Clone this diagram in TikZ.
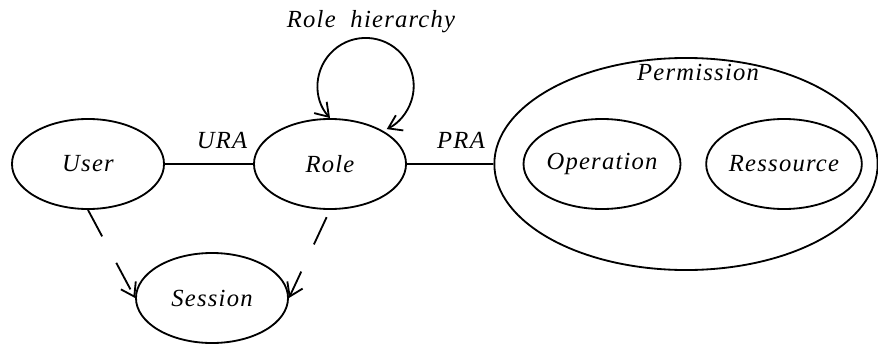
\documentclass[tikz,border=0pt]{standalone}
\usepackage{fontspec}
\setmainfont{Liberation Serif}[LetterSpace=5]
\usetikzlibrary{shapes.geometric,arrows.meta}

\begin{document}
\begin{tikzpicture}[%%
  x=0.025cm,y=0.025cm,%%
  lineStyle/.style={-,line width=1.3pt},%%
  dashStyle/.style={lineStyle,-{Straight Barb[length=9pt,width=12pt]},dash pattern=on 0.75cm off 0.75cm},%%
  setStyle/.style={ellipse,draw,line width=1.3pt,inner sep=0pt,%%
    minimum width=3.8cm,minimum height=2.25cm},%%
  nodeStyle/.style={inner sep=0pt}%%
]
\fontsize{17.5}{20}\selectfont\itshape
\useasboundingbox (0,0) rectangle (878,343);
%%
%%
\coordinate (UserPos) at (88,179);
\coordinate (RolePos) at (330,179);
\coordinate (SessionPos) at (212,45);
\coordinate (PermPos) at (686,179);
\coordinate (OperationPos) at (602,179);
\coordinate (RessourcePos) at (784,179);
%%
%%
%% Sets of the model.
\node (User) at (UserPos) [setStyle] {User};
\node (Role) at (RolePos) [setStyle] {Role};
\node (Session) at (SessionPos) [setStyle] {Session};
\node (Perm) at (PermPos) [setStyle,minimum width=9.58cm,minimum height=5.3cm] {};
\node (Operation) at (OperationPos) [setStyle,minimum width=3.85cm] {Operation};
\node (Ressource) at (RessourcePos) [setStyle] {Ressource};
%% Labels.
\node (URA) at (222,203) [nodeStyle] {URA};
\node (PRA) at (461,203) [nodeStyle] {PRA};
\node (Hier) at (371,321) [nodeStyle] {Role\ \ hierarchy};
\node (PermLabel) at (698,271) [nodeStyle] {Permission};
%% Relations between the sets.
\draw[lineStyle] (User) -- (Role);
\draw[lineStyle] (Role) -- (Perm);
\draw[lineStyle,{Straight Barb[length=9pt,width=12pt]}-{Straight Barb[length=9pt,width=12pt]}]
  (Role.north) arc[start angle=222,end angle=-64,radius=1.2cm];
\draw[dashStyle] (User.south) -- (Session.west);
\draw[dashStyle,dash phase=1.3cm] (Role.south) -- (Session.east);
\end{tikzpicture}
\end{document}
